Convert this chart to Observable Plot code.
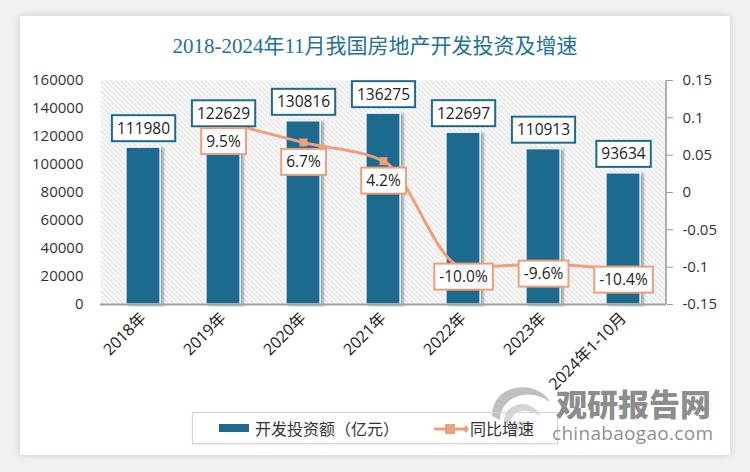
<!DOCTYPE html>
<html>
<head>
<meta charset="utf-8">
<script src="https://cdn.jsdelivr.net/npm/d3@7"></script>
<script src="https://cdn.jsdelivr.net/npm/@observablehq/plot@0.6"></script>
<style>
  html, body { margin: 0; padding: 0; }
  body { width: 750px; height: 472px; background: #f1f1f1; position: relative; overflow: hidden; font-family: "Open Sans", "Noto Sans CJK SC", sans-serif; }
  #card { position: absolute; left: 20px; top: 16px; width: 710px; height: 439px; background: #fff; box-shadow: 0 0 7px rgba(0,0,0,0.18); }
  #title { position: absolute; left: 0; top: 32px; width: 750px; text-align: center; font-family: "Liberation Serif", "Noto Sans CJK SC", serif; font-size: 21px; color: #22709a; line-height: 28px; }
  #chart { position: absolute; left: 0; top: 0; }
  #legend { position: absolute; left: 192px; top: 412px; width: 364px; height: 30px; border: 1px solid #d4d4d4; box-shadow: 0 1px 2px rgba(0,0,0,0.08); font-family: "Noto Sans CJK SC", sans-serif; font-size: 16px; color: #333; }
  #legend .sw { position: absolute; left: 26px; top: 11px; width: 30px; height: 8px; background: #1d6a8e; }
  #legend .t1 { position: absolute; left: 62px; top: 3px; line-height: 24px; }
  #legend svg { position: absolute; left: 240px; top: 6px; }
  #legend .t2 { position: absolute; left: 277px; top: 3px; line-height: 24px; }
  #logo { position: absolute; left: 486px; top: 376px; }
  #wm1 { position: absolute; left: 556px; top: 383px; font-family: "Noto Sans CJK SC", sans-serif; font-weight: 900; font-size: 31px; color: rgba(120,120,120,0.85); line-height: 40px; }
  #wm2 { position: absolute; left: 552px; top: 421px; font-family: "Open Sans", sans-serif; font-size: 19px; color: rgba(120,120,120,0.85); line-height: 24px; letter-spacing: 0.3px; }
</style>
</head>
<body>
<div id="card"></div>
<div id="title">2018-2024年11月我国房地产开发投资及增速</div>
<svg id="logo" width="66" height="66" viewBox="0 0 66 66">
  <path d="M6,40 C6,18 26,8 44,12 C54,14 61,20 64,26 C56,20 46,17 36,19 C22,22 14,32 14,44 Z" fill="rgba(140,140,140,0.55)"/>
  <path d="M18,46 C18,34 28,27 38,28 C46,29 52,34 54,40 C48,36 42,34 36,35 C28,36 24,42 24,50 Z" fill="rgba(160,160,160,0.45)"/>
  <path d="M26,58 C26,50 32,45 38,45 C42,45 46,48 47,52 C43,50 39,50 36,51 C32,53 31,57 32,62 Z" fill="rgba(170,170,170,0.4)"/>
</svg>
<div id="chart"></div>
<div id="legend">
  <div class="sw"></div>
  <div class="t1">开发投资额（亿元）</div>
  <svg width="36" height="20"><line x1="1" y1="10" x2="33" y2="10" stroke="#ef9f7b" stroke-width="3"/><rect x="12" y="5" width="10" height="10" fill="#ef9f7b"/><path d="M33,6L36,10L33,14L30,10Z" fill="#ef9f7b"/></svg>
  <div class="t2">同比增速</div>
</div>
<div id="wm1">观研报告网</div>
<div id="wm2">chinabaogao.com</div>
<script>
const categories = ["2018年", "2019年", "2020年", "2021年", "2022年", "2023年", "2024年1-10月"];
const investment = [111980, 122629, 130816, 136275, 122697, 110913, 93634];
const growth = [null, 0.095, 0.067, 0.042, -0.100, -0.096, -0.104];
const growthLabels = [null, "9.5%", "6.7%", "4.2%", "-10.0%", "-9.6%", "-10.4%"];
const leftTicks = [0, 20000, 40000, 60000, 80000, 100000, 120000, 140000, 160000];
const rightTicks = [-0.15, -0.1, -0.05, 0, 0.05, 0.1, 0.15];
const rightTickLabels = ["-0.15", "-0.1", "-0.05", "0", "0.05", "0.1", "0.15"];

const yMax = 160000, gMin = -0.15, gMax = 0.15;
const toY = g => (g - gMin) / (gMax - gMin) * yMax;

const BLUE = "#1d6a8e", ORANGE = "#ef9f7b";

const data = categories.map((c, i) => ({c, v: investment[i], g: growth[i], gl: growthLabels[i]}));
const lineData = data.filter(d => d.g != null);
const posData = lineData.filter(d => d.g > 0);
const negData = lineData.filter(d => d.g <= 0);

const chart = Plot.plot({
  width: 750, height: 400,
  marginTop: 80, marginLeft: 100, marginRight: 84, marginBottom: 96,
  style: {background: "transparent", fontFamily: "'Open Sans', 'Noto Sans CJK SC', sans-serif", fontSize: "15px", color: "#404040", overflow: "visible"},
  x: {domain: categories, paddingInner: 0.58, paddingOuter: 0.29, label: null},
  y: {domain: [0, yMax], label: null},
  marks: [
    Plot.frame({fill: "url(#hatch)", stroke: null}),
    Plot.barY(data, {x: "c", y: "v", fill: BLUE, stroke: "#fff", strokeWidth: 1.2}),
    Plot.ruleY([0], {stroke: "#a0a0a0", strokeWidth: 2}),
    Plot.axisX({tickRotate: -45, tickSize: 0, tickPadding: 11, fontSize: 16, fill: "#222"}),
    Plot.axisY(leftTicks, {anchor: "left", tickSize: 0, tickPadding: 17, tickFormat: d => String(d), fontSize: 15, fill: "#333"}),
    Plot.axisY(rightTicks.map(toY), {anchor: "right", tickSize: 6, tickPadding: 10, stroke: "#999", tickFormat: (d, i) => rightTickLabels[i], fontSize: 15, fill: "#333"}),
    Plot.line(lineData, {x: "c", y: d => toY(d.g), curve: "monotone-x", stroke: ORANGE, strokeWidth: 3}),
    Plot.dot(lineData, {x: "c", y: d => toY(d.g), symbol: "square", r: 4.5, fill: ORANGE, stroke: null}),
    Plot.text(data, {x: "c", y: "v", text: d => String(d.v), dy: -19, fill: "#222", fontSize: 15.5}),
    Plot.text(posData, {x: "c", y: d => toY(d.g), text: "gl", dy: 20, fill: "#222", fontSize: 15.5}),
    Plot.text(negData, {x: "c", y: d => toY(d.g), text: "gl", dy: 10, fill: "#222", fontSize: 15.5})
  ]
});
document.getElementById("chart").appendChild(chart);

const svg = d3.select(chart);
const defs = svg.insert("defs", ":first-child");
const pat = defs.append("pattern").attr("id", "hatch").attr("patternUnits", "userSpaceOnUse").attr("width", 5).attr("height", 5);
pat.append("rect").attr("width", 5).attr("height", 5).attr("fill", "#fafafa");
pat.append("path").attr("d", "M-1,-1L6,6M-1,4L1,6M4,-1L6,1").attr("stroke", "#d2d2d2").attr("stroke-width", 1);
const f = defs.append("filter").attr("id", "shadow").attr("x", "-30%").attr("y", "-10%").attr("width", "160%").attr("height", "120%");
f.append("feDropShadow").attr("dx", 3).attr("dy", 1).attr("stdDeviation", 1.6).attr("flood-color", "#000").attr("flood-opacity", 0.35);

const barG = chart.querySelector('g[aria-label="bar"]');
if (barG) barG.setAttribute("filter", "url(#shadow)");

// boxes around value labels
const textGroups = chart.querySelectorAll('g[aria-label="text"]');
textGroups.forEach((g, gi) => {
  const col = gi === 0 ? BLUE : ORANGE;
  g.querySelectorAll("text").forEach(t => {
    const b = t.getBBox();
    const r = document.createElementNS("http://www.w3.org/2000/svg", "rect");
    r.setAttribute("x", b.x - 5);
    r.setAttribute("y", b.y - 1.5);
    r.setAttribute("width", b.width + 10);
    r.setAttribute("height", b.height + 4);
    r.setAttribute("fill", "#fff");
    r.setAttribute("stroke", col);
    r.setAttribute("stroke-width", 2);
    const tr = t.getAttribute("transform");
    if (tr) r.setAttribute("transform", tr);
    t.parentNode.insertBefore(r, t);
  });
});

// right axis line
const xr = chart.scale("x").range, yr = chart.scale("y").range;
svg.append("line").attr("x1", xr[1]).attr("x2", xr[1]).attr("y1", yr[0]).attr("y2", yr[1]).attr("stroke", "#999").attr("stroke-width", 1.5);
</script>
</body>
</html>
